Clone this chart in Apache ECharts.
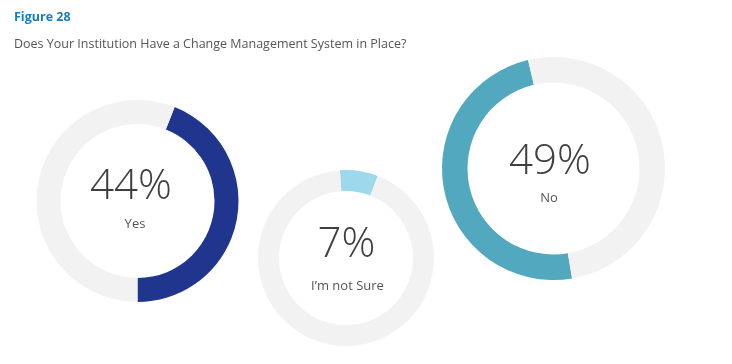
<!DOCTYPE html>
<html><head><meta charset="utf-8">
<script src="https://cdn.jsdelivr.net/npm/echarts@6/dist/echarts.min.js"></script>
<style>html,body{margin:0;padding:0;background:#fff}#c{width:732px;height:364px}</style>
</head><body><div id="c"></div>
<script>
var categories = ['Yes', 'I\u2019m not Sure', 'No'];
var values = [44, 7, 49];
var colors = ['#1f358e', '#9dd8ec', '#52a9bf'];

var centers = [[137.5, 201], [346, 258], [553.5, 168.5]];
var radii = [[77, 101], [67, 88], [86, 111.5]];
var startAngles = [68.4, 94, -80.4];
var numX = [131, 346.5, 550];
var numY = [187, 245, 162];
var labX = [135, 347.5, 549];
var labY = [224, 286, 198];

var chart = echarts.init(document.getElementById('c'));
var series = [], graphics = [];
categories.forEach(function (name, i) {
  series.push({
    type: 'pie', silent: true, animation: false,
    center: centers[i], radius: radii[i], startAngle: startAngles[i],
    label: {show: false}, labelLine: {show: false},
    data: [
      {name: name, value: values[i], itemStyle: {color: colors[i]}},
      {name: 'rest', value: 100 - values[i], itemStyle: {color: '#f2f2f2'}}
    ]
  });
  graphics.push({type: 'text', x: numX[i], y: numY[i], style: {
    text: values[i] + '%', fill: '#3f3f3f', font: '300 42px "Open Sans"', align: 'center', verticalAlign: 'middle'}});
  graphics.push({type: 'text', x: labX[i], y: labY[i], style: {
    text: name, fill: '#555', font: '13px "Open Sans"', align: 'center', verticalAlign: 'middle'}});
});
graphics.push({type: 'text', x: 14, y: 17, style: {text: 'Figure 28', fill: '#1a7cc1', font: 'bold 12.5px "Open Sans"', verticalAlign: 'middle'}});
graphics.push({type: 'text', x: 14, y: 44, style: {text: 'Does Your Institution Have a Change Management System in Place?', fill: '#555', font: '12.5px "Open Sans"', verticalAlign: 'middle'}});

chart.setOption({animation: false, series: series, graphic: graphics});
</script></body></html>
